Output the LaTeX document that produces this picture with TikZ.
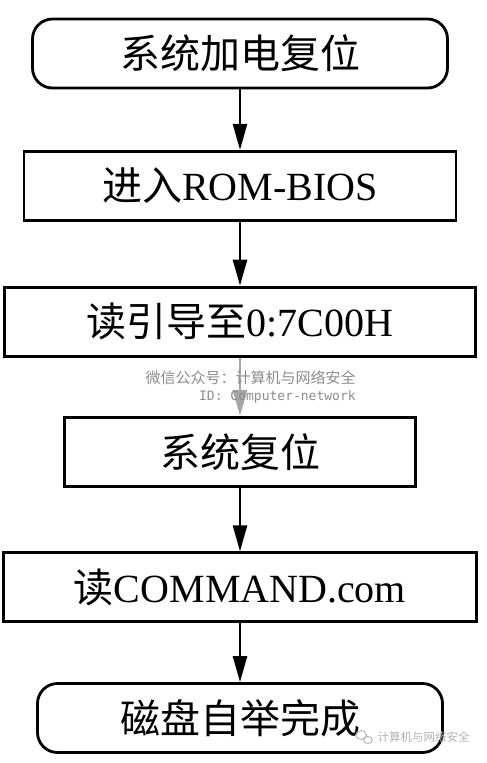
\documentclass[tikz,border=0pt]{standalone}
\usepackage{fontspec}
\setmainfont{Liberation Serif}
\newfontfamily\cjk{Noto Sans CJK SC}
\newfontfamily\wmmono{DejaVu Sans Mono}
\usetikzlibrary{arrows.meta,positioning}

\begin{document}
\begin{tikzpicture}[x=1pt,y=-1pt,->,>={Triangle[length=26pt,width=14pt]},line width=2.6pt,
        node distance=61pt,font=\fontsize{40}{48}\selectfont]
        \tikzstyle{process}=[draw=black,line width=2.8pt,minimum height=69pt,inner sep=0pt]
        \tikzstyle{terminal}=[process,rounded corners=20pt]
        \tikzstyle{wmark}=[text=black!45,inner sep=0pt,anchor=east]
        \tikzstyle{wlogo}=[-,draw=black!30,line width=0.9pt]

        \useasboundingbox (0,0) rectangle (487,763);

        \node[terminal,minimum width=415pt] (power) at (240,53.5)           {{\cjk 系统加电复位}};
        \node[process,minimum width=432pt]  (bios)  [below=60.5pt of power] {{\cjk 进入}ROM-BIOS};
        \node[process,minimum width=471pt]  (boot)  [below=64pt of bios]    {{\cjk 读引导至}0:7C00H};
        \node[process,minimum width=351pt]  (reset) [below=58.5pt of boot]  {{\cjk 系统复位}};
        \node[process,minimum width=473pt]  (cmd)   [below=63.5pt of reset] {{\cjk 读}COMMAND.com};
        \node[terminal,minimum width=405pt] (done)  [below=59pt of cmd]     {{\cjk 磁盘自举完成}};

        \draw (power) -- (bios);
        \draw (bios)  -- (boot);
        \draw[draw=black!35,fill=black!35] (boot) -- (reset);
        \draw (reset) -- (cmd);
        \draw (cmd)   -- (done);

        % watermarks
        \node[wmark,font=\cjk\fontsize{15}{15}\selectfont] (wm1) at (357,378) {微信公众号：计算机与网络安全};
        \node[wmark,font=\wmmono\fontsize{13}{13}\selectfont] (wm2) at (357,397) {ID: Computer-network};
        \node[wmark,text=black!30,font=\cjk\fontsize{11.5}{11.5}\selectfont] (wm3) at (471,737) {计算机与网络安全};
        \draw[wlogo] (361,735) ellipse (5.5 and 4.5);
        \draw[wlogo,fill=white] (368,740) ellipse (4.5 and 3.5);
\end{tikzpicture}
\end{document}
